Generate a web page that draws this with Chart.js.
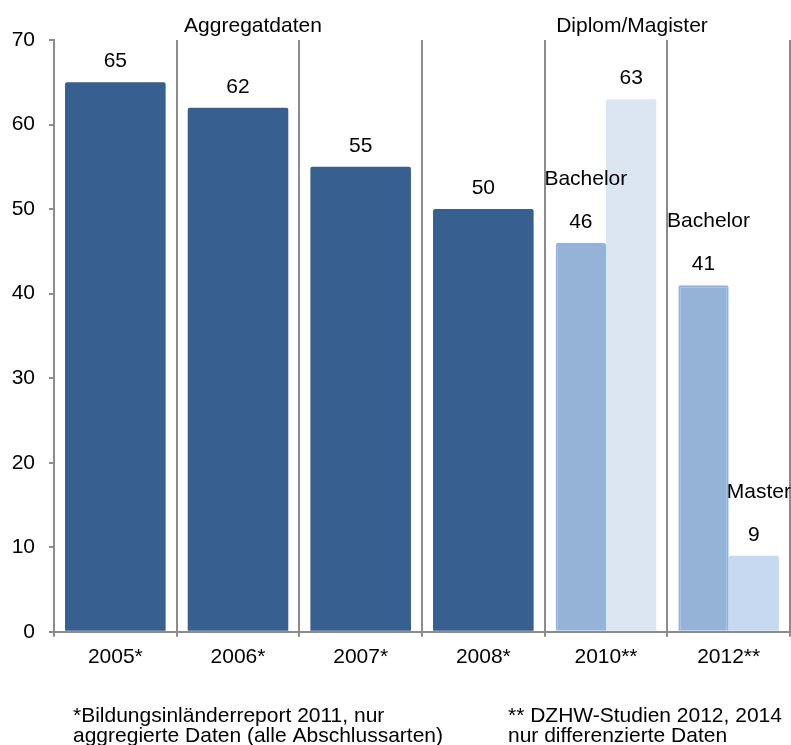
<!DOCTYPE html>
<html lang="de">
<head>
<meta charset="utf-8">
<title>Abschlussquoten</title>
<script src="https://cdn.jsdelivr.net/npm/chart.js@4/dist/chart.umd.min.js"></script>
<style>
  html, body { margin: 0; padding: 0; background: #fff; }
  canvas { display: block; }
</style>
</head>
<body>
<canvas id="chartAbschluss" width="791" height="745"></canvas>
<script>
// Daten
const jahre = ['2005*', '2006*', '2007*', '2008*', '2010**', '2012**'];
const aggregiert = [65, 62, 55, 50, null, null];
const bachelor = [null, null, null, null, 46, 41];
const diplomMaster = [null, null, null, null, 63, 9];
const bachelorNamen = [null, null, null, null, 'Bachelor', 'Bachelor'];
const diplomMasterNamen = [null, null, null, null, null, 'Master'];
const yTicks = [0, 10, 20, 30, 40, 50, 60, 70];

const ueberschriften = ['Aggregatdaten', 'Diplom/Magister'];
const fussnoteLinks = ['*Bildungsinländerreport 2011, nur', 'aggregierte Daten (alle Abschlussarten)'];
const fussnoteRechts = ['** DZHW-Studien 2012, 2014', 'nur differenzierte Daten'];

const FONT = '"Liberation Sans", Arial, sans-serif';
const GRAU = '#8c8c8c';

// Werte, Zusatznamen, Überschriften und Fußnoten
const beschriftung = {
  id: 'beschriftung',
  afterDatasetsDraw(chart) {
    const ctx = chart.ctx;
    const x = chart.scales.x;
    ctx.save();
    ctx.fillStyle = '#000';
    ctx.textAlign = 'center';
    ctx.textBaseline = 'alphabetic';

    chart.data.datasets.forEach((ds, i) => {
      const meta = chart.getDatasetMeta(i);
      meta.data.forEach((bar, j) => {
        const v = ds.data[j];
        if (v == null) return;
        ctx.font = '21px ' + FONT;
        ctx.fillText(String(v), bar.x, bar.y - 15);
        const name = ds.namen && ds.namen[j];
        if (name) {
          ctx.fillText(name, bar.x + 5, bar.y - 58);
        }
      });
    });

    ctx.font = '21px ' + FONT;
    ctx.fillText(ueberschriften[0], x.getPixelForValue(1) + 15, 32);
    ctx.fillText(ueberschriften[1], x.getPixelForValue(4) + 26, 32);

    ctx.textAlign = 'left';
    ctx.fillText(fussnoteLinks[0], 73, 722);
    ctx.fillText(fussnoteLinks[1], 73, 742);
    ctx.fillText(fussnoteRechts[0], 508, 722);
    ctx.fillText(fussnoteRechts[1], 508, 742);
    ctx.restore();
  }
};

const ctx = document.getElementById('chartAbschluss').getContext('2d');
new Chart(ctx, {
  type: 'bar',
  data: {
    labels: jahre,
    datasets: [
      {
        label: 'Aggregatdaten',
        data: aggregiert,
        backgroundColor: '#375f8f',
        borderRadius: 2
      },
      {
        label: 'Bachelor',
        data: bachelor,
        namen: bachelorNamen,
        backgroundColor: '#95b3d7',
        borderColor: '#8db4e2',
        borderWidth: 2,
        borderRadius: 2
      },
      {
        label: 'Diplom/Magister, Master',
        data: diplomMaster,
        namen: diplomMasterNamen,
        backgroundColor: ['#dce6f2', '#dce6f2', '#dce6f2', '#dce6f2', '#dce6f2', '#c6d9f1'],
        borderRadius: 2
      }
    ]
  },
  options: {
    responsive: false,
    animation: false,
    skipNull: true,
    categoryPercentage: 0.82,
    barPercentage: 1,
    layout: { padding: { left: 0, top: 40, right: 1, bottom: 67 } },
    plugins: {
      legend: { display: false },
      tooltip: { enabled: false }
    },
    scales: {
      x: {
        grid: { offset: true, color: GRAU, lineWidth: 2, tickLength: 5 },
        border: { color: GRAU, width: 2 },
        ticks: { color: '#000', padding: 8, font: { family: FONT, size: 21 } }
      },
      y: {
        min: 0,
        max: 70,
        afterFit(scale) { scale.width = 54; },
        afterBuildTicks(scale) { scale.ticks = yTicks.map(v => ({ value: v })); },
        grid: { drawOnChartArea: false, color: GRAU, lineWidth: 2, tickLength: 5 },
        border: { color: GRAU, width: 2 },
        ticks: { color: '#000', padding: 14, font: { family: FONT, size: 21 } }
      }
    }
  },
  plugins: [beschriftung]
});
</script>
</body>
</html>
